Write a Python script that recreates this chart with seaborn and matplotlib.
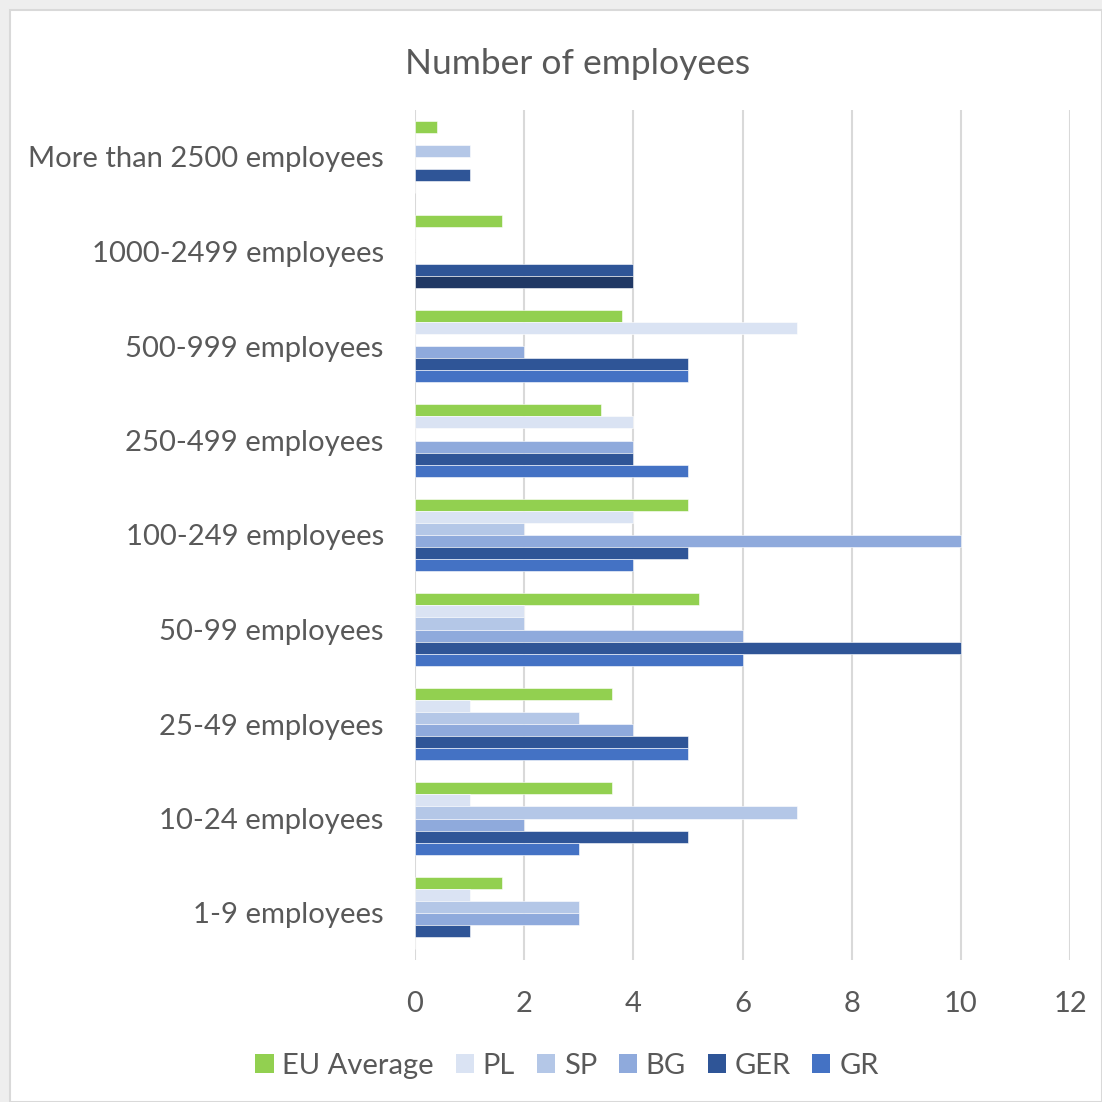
import matplotlib
matplotlib.use("Agg")
import matplotlib.pyplot as plt
import seaborn as sns
import pandas as pd
from matplotlib.patches import Rectangle

categories = ["More than 2500 employees", "1000-2499 employees", "500-999 employees",
              "250-499 employees", "100-249 employees", "50-99 employees",
              "25-49 employees", "10-24 employees", "1-9 employees"]
series = ["EU Average", "PL", "SP", "BG", "GER", "GR"]
eu_average = [0.4, 1.6, 3.8, 3.4, 5.0, 5.2, 3.6, 3.6, 1.6]
pl = [0, 0, 7, 4, 4, 2, 1, 1, 1]
sp = [1, 0, 0, 0, 2, 2, 3, 7, 3]
bg = [0, 0, 2, 4, 10, 6, 4, 2, 3]
ger = [1, 4, 5, 4, 5, 10, 5, 5, 1]
gr = [0, 4, 5, 5, 4, 6, 5, 3, 0]
x_ticks = [0, 2, 4, 6, 8, 10, 12]
title = "Number of employees"

colors = ["#92D050", "#DAE3F3", "#B4C7E7", "#8FAADC", "#2F5597", "#4472C4"]

values = [eu_average, pl, sp, bg, ger, gr]
rows = []
for s, vals in zip(series, values):
    for c, v in zip(categories, vals):
        rows.append({"category": c, "series": s, "value": v})
df = pd.DataFrame(rows)

sns.set_theme(style="white")
plt.rcParams["font.family"] = ["Lato", "DejaVu Sans"]
text_color = "#595959"

fig = plt.figure(figsize=(11.02, 11.02), dpi=100)
fig.patch.set_facecolor("#EEEEEE")
bg_rect = Rectangle((10 / 1102, 0), 1 - 10 / 1102, 1 - 10 / 1102,
                    transform=fig.transFigure, facecolor="white",
                    edgecolor="#D9D9D9", linewidth=1.5, zorder=-10)
fig.patches.append(bg_rect)

ax = fig.add_axes([415 / 1102, 1 - 960.25 / 1102, 655 / 1102, 850.5 / 1102])
ax.set_zorder(1)
ax.set_facecolor("none")
sns.barplot(data=df, y="category", x="value", hue="series", order=categories,
            hue_order=series, palette=colors, saturation=1, width=0.762, orient="h",
            edgecolor="white", linewidth=0.4, ax=ax, legend=False)

# special colouring of one data point (GR, 1000-2499)
ax.containers[5][1].set_facecolor("#203864")

ax.set_xlim(0, 12)
ax.set_xticks(x_ticks)
ax.set_xticklabels([str(t) for t in x_ticks])
ax.set_xlabel("")
ax.set_ylabel("")
ax.grid(axis="x", color="#D9D9D9", linewidth=1.5)
ax.set_axisbelow(True)
for sp_ in ax.spines.values():
    sp_.set_visible(False)
ax.tick_params(axis="x", length=0, pad=22, labelsize=21, labelcolor=text_color)
ax.tick_params(axis="y", length=0, pad=22.5, labelsize=21.1, labelcolor=text_color)

fig.text(578 / 1102, 1 - 64 / 1102, title, ha="center", va="center",
         fontsize=25.5, color=text_color)

handles = [Rectangle((0, 0), 1, 1, facecolor=c, edgecolor="none") for c in colors]
leg = fig.legend(handles, series, loc="center", bbox_to_anchor=(567 / 1102, 1 - 1066 / 1102),
                 ncol=6, frameon=False, fontsize=21, handlelength=0.62, handleheight=0.62,
                 handletextpad=0.3, columnspacing=0.75)
for t in leg.get_texts():
    t.set_color(text_color)

fig.savefig("out.png", dpi=100, facecolor=fig.get_facecolor())
